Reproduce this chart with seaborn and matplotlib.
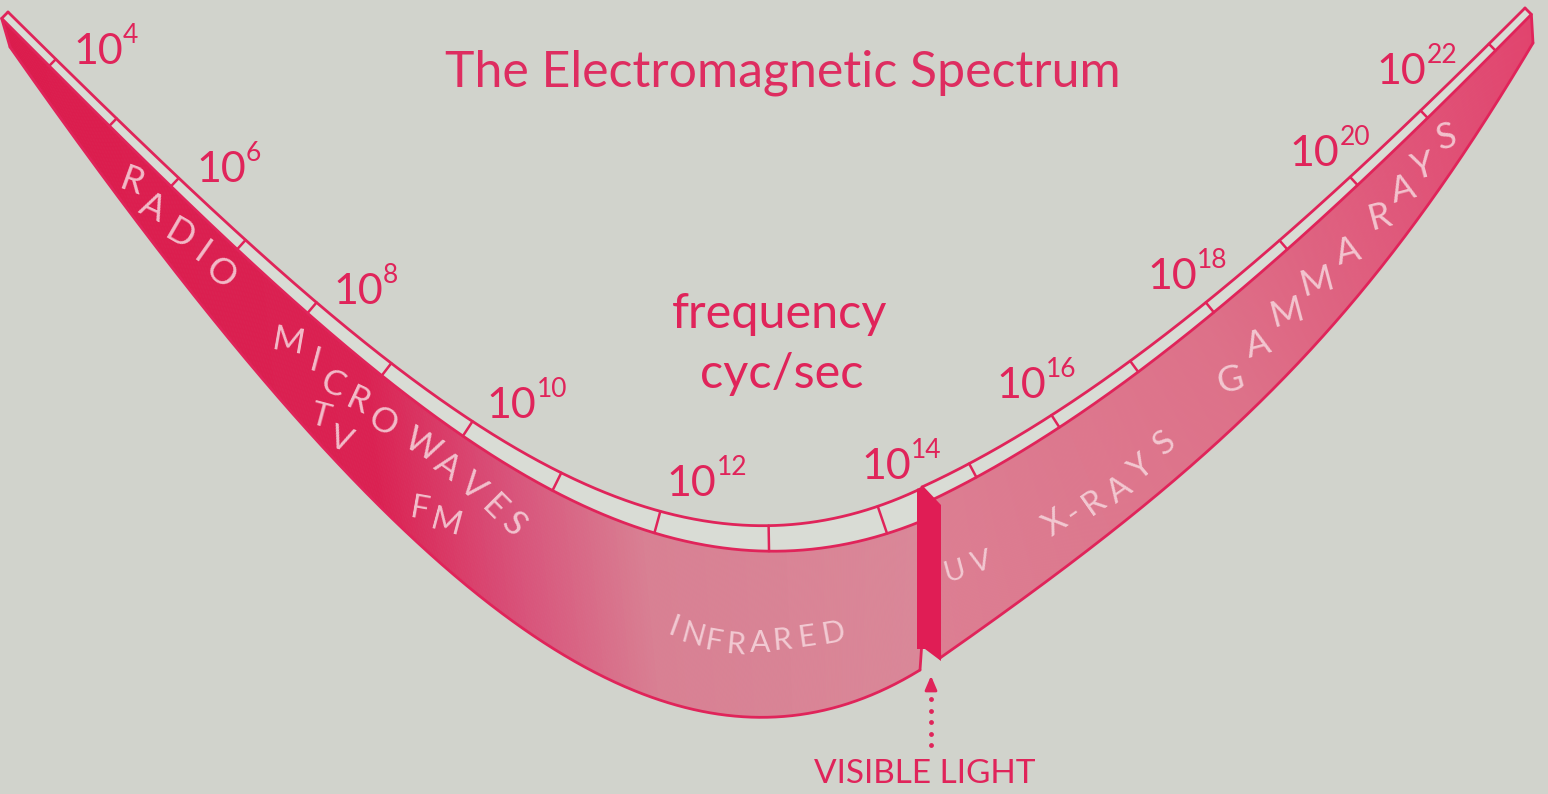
import numpy as np
import matplotlib
matplotlib.use("Agg")
import matplotlib.pyplot as plt
import seaborn as sns
from matplotlib.collections import PolyCollection
from matplotlib.colors import LinearSegmentedColormap

# decades (powers of ten, cycles per second) marked along the band
left_ticks = list(range(4, 15))
right_ticks = list(range(15, 23))
left_labels = [4, 6, 8, 10, 12, 14]
right_labels = [16, 18, 20, 22]

title = "The Electromagnetic Spectrum"
axis_text = ["frequency", "cyc/sec"]
visible_text = "VISIBLE LIGHT"

# region names written on the band
radio = "RADIO"
micro = "MICROWAVES"
tv = "TV"
fm = "FM"
infrared = "INFRARED"
uv = "UV"
xrays = "X-RAYS"
gamma = "GAMMA RAYS"

W, H = 1548, 794
BG = "#d1d3cc"
STRIP = "#d9dcd5"
INK = "#e0245a"
BAR = "#e01d55"
LETTER = "#f6d6dd"

sns.set_theme(style="white")
plt.rcParams["font.family"] = ["Lato", "DejaVu Sans"]

fig = plt.figure(figsize=(W / 100, H / 100), dpi=100, facecolor=BG)
ax = fig.add_axes([0, 0, 1, 1])
ax.set_facecolor(BG)


def bezier(pts, n=600):
    p = np.array(pts, float)
    t = np.linspace(0, 1, n)[:, None]
    return ((1 - t) ** 3 * p[0] + 3 * t * (1 - t) ** 2 * p[1]
            + 3 * t ** 2 * (1 - t) * p[2] + t ** 3 * p[3])


def make_arm(outer_pts, lower_pts, width):
    outer = bezier(outer_pts)
    lower = bezier(lower_pts)
    d = np.gradient(outer, axis=0)
    d /= np.linalg.norm(d, axis=1)[:, None]
    nrm = np.column_stack([-d[:, 1], d[:, 0]])
    t = np.linspace(0, 1, len(outer))
    inner = outer + nrm * width(t)[:, None]
    s = np.concatenate([[0], np.cumsum(np.linalg.norm(np.diff(outer, axis=0), axis=1))])
    return dict(outer=outer, inner=inner, lower=lower, tan=d, nrm=nrm, s=s / s[-1])


left = make_arm([(8, 12), (380, 380), (640, 620), (918, 490)],
                [(10, 47), (380, 575), (660, 830), (920, 670)],
                lambda t: 9 + 21 * t ** 1.2)
right = make_arm([(922, 487), (1122, 395), (1325, 208), (1525, 8)],
                 [(940, 658), (1220, 462), (1363, 329), (1533, 43)],
                 lambda t: 16 - 7 * t)

left_cmap = LinearSegmentedColormap.from_list(
    "l", [(0, "#dc1c4d"), (0.36, "#db2152"), (0.52, "#d9527a"), (0.68, "#d98093"), (1, "#da8798")])
right_cmap = LinearSegmentedColormap.from_list(
    "r", [(0, "#dd7e92"), (0.45, "#de7189"), (0.72, "#e05a7c"), (1, "#e2446e")])


def ink(xy, lw=2.0, z=4):
    sns.lineplot(x=xy[:, 0], y=xy[:, 1], sort=False, estimator=None,
                 color=INK, lw=lw, ax=ax, zorder=z)


def draw_arm(a, cmap):
    inner, lower = a["inner"], a["lower"]
    quads = [np.array([inner[i], inner[i + 1], lower[i + 1], lower[i]])
             for i in range(len(inner) - 1)]
    cols = cmap(np.linspace(0, 1, len(quads)))
    ax.add_collection(PolyCollection(quads, facecolors=cols, edgecolors=cols,
                                     linewidths=0.6, zorder=1))
    strip = np.vstack([a["outer"], a["inner"][::-1]])
    ax.fill(strip[:, 0], strip[:, 1], color=STRIP, zorder=2, lw=0)
    ink(a["outer"])
    ink(a["inner"])
    ink(a["lower"])
    ink(np.array([a["outer"][0], a["inner"][0], a["lower"][0]]))
    ink(np.array([a["outer"][-1], a["inner"][-1], a["lower"][-1]]))


draw_arm(left, left_cmap)
draw_arm(right, right_cmap)


def left_frac(e):
    return 0.06 + 0.076 * (e - 4) + 0.0014 * (e - 4) ** 2


def right_frac(e):
    return 0.067 + 0.1237 * (e - 15)


def idx(a, f):
    return int(np.searchsorted(a["s"], f))


for a, ticks, frac in [(left, left_ticks, left_frac), (right, right_ticks, right_frac)]:
    for e in ticks:
        i = idx(a, frac(e))
        ink(np.array([a["outer"][i], a["inner"][i]]), lw=1.8)


def decade_label(a, f, e, out, shift):
    i = idx(a, f)
    c = a["outer"][i] - a["nrm"][i] * out + a["tan"][i] * shift
    ax.text(c[0], c[1] + 16, "10", fontsize=31, color=INK, ha="center", va="baseline", zorder=5)
    ax.text(c[0] + 25, c[1] - 5, str(e), fontsize=19, color=INK, ha="left", va="baseline", zorder=5)


for e in left_labels:
    decade_label(left, left_frac(e), e, 38, 22)
for e in right_labels:
    decade_label(right, min(right_frac(e), 0.84), e, 44, -8)

# visible-light gap between the two arms
ax.fill([917, 923, 941, 941, 925, 917], [489, 486, 505, 661, 649, 649],
        color=BAR, zorder=6, lw=0)

ax.text(783, 87, title, fontsize=36, color="#de2d60", ha="center", va="baseline")
ax.text(780, 328, axis_text[0], fontsize=35, color=INK, ha="center", va="baseline")
ax.text(782, 388, axis_text[1], fontsize=35, color=INK, ha="center", va="baseline")
ax.text(925, 783, visible_text, fontsize=24, color=INK, ha="center", va="baseline")
ax.scatter([931] * 6, np.linspace(688, 745, 6), s=6, color=INK, zorder=5)
ax.annotate("", xy=(931, 673), xytext=(931, 686),
            arrowprops=dict(arrowstyle="-|>,head_length=0.7,head_width=0.3",
                            color=INK, lw=2))

# lettering on the band
word_layout = [
    (radio, [(132, 182, -20), (152, 208, -25), (180, 235, -30), (202, 253, -35), (220, 273, -40)], 26),
    (micro, [(288, 342, -10), (315, 362, -15), (333, 385, -20), (358, 402, -25), (382, 422, -30),
             (422, 445, -30), (447, 467, -35), (472, 487, -40), (494, 508, -45), (514, 525, -45)], 25),
    (tv, [(320, 417, -15), (341, 440, -20)], 24),
    (fm, [(420, 510, -10), (446, 523, -15)], 24),
    (infrared, [(673, 627, -20), (693, 635, -15), (713, 642, -10), (735, 645, -5), (760, 643, 0),
                (782, 640, 5), (807, 637, 8), (833, 633, 10)], 22),
    (uv, [(955, 572, 15), (981, 563, 15)], 21),
    (xrays, [(1055, 523, 35), (1074, 513, 35), (1094, 503, 35), (1120, 490, 35), (1141, 468, 40),
             (1165, 443, 40)], 24),
    (gamma, [(1230, 380, 15), (1258, 345, 15), (1287, 313, 15), (1317, 282, 15), (1348, 252, 15),
             (1380, 217, 15), (1403, 190, 15), (1423, 167, 15), (1447, 137, 15)], 26),
]
for word, layout, size in word_layout:
    for ch, (x, y, rot) in zip(word.replace(" ", ""), layout):
        ax.text(x, y, ch, fontsize=size, color=LETTER, alpha=0.85, ha="center", va="center",
                rotation=rot, zorder=3)

ax.set_xlim(0, W)
ax.set_ylim(H, 0)
ax.axis("off")
fig.savefig("out.png", dpi=100, facecolor=BG)
